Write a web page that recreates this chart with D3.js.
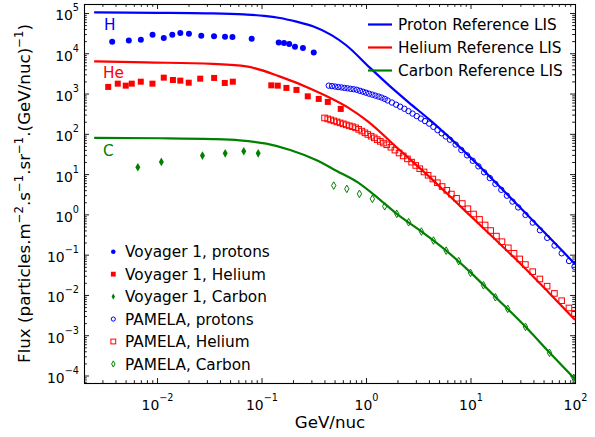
<!DOCTYPE html>
<html><head><meta charset="utf-8">
<script src="https://cdn.jsdelivr.net/npm/d3@7/dist/d3.min.js"></script>
<style>
html,body{margin:0;padding:0;background:#fff;}
svg{display:block;}
text{font-family:"DejaVu Sans","Liberation Sans",sans-serif;}
</style></head>
<body><svg id="chart" width="595" height="437"></svg>
<script>
// ---------------- data ----------------
const xTickValues = [0.01, 0.1, 1, 10, 100];
const xTickExps = ["\u22122", "\u22121", "0", "1", "2"];
const yTickValues = [1e-4, 1e-3, 1e-2, 1e-1, 1, 10, 100, 1e3, 1e4, 1e5];
const yTickExps = ["\u22124", "\u22123", "\u22122", "\u22121", "0", "1", "2", "3", "4", "5"];

const protonLIS_E = [0.0025,0.01,0.03,0.0676,0.106,0.15,0.211,0.31,0.468,0.646,1.08,1.68,2.59,4.05,6.46,11.3,20.2,32.0,56.6,100];
const protonLIS_F = [1.03e5,1.01e5,9.8e4,9.2e4,8.5e4,7.52e4,6.17e4,4.66e4,2.82e4,1.58e4,4.47e3,1.55e3,589,225,75.9,19.0,4.17,1.23,0.269,0.0589];

const heliumLIS_E = [0.0025,0.00787,0.0341,0.0713,0.1485,0.309,0.646,1.04,2.09,4.09,7.29,16.1,31.6,56.6,100];
const heliumLIS_F = [6310,5940,5430,4730,2670,1250,479,204,39.8,8.32,2.00,0.282,0.0525,0.0112,0.0024];

const carbonLIS_E = [0.0025,0.0108,0.0339,0.0616,0.111,0.188,0.333,0.525,0.828,1.31,1.97,3.40,5.85,10.0,17.3,33.6,57.0,100];
const carbonLIS_F = [79.1,77.6,74.1,69.0,57.1,39.8,22.4,12.0,6.31,2.51,1.03,0.374,0.126,0.0363,0.00891,0.00162,3.72e-4,8.13e-5];

const voyP_E = [0.00372,0.00537,0.0070,0.00906,0.0116,0.0140,0.0167,0.0202,0.0265,0.0351,0.0447,0.0527,0.0805,0.146,0.164,0.184,0.209,0.249,0.316];
const voyP_F = [19400,20600,21700,29000,24000,29000,31900,30600,27300,26300,25800,25400,23000,18600,18000,17000,14600,13500,10500];

const voyHe_E = [0.00341,0.00421,0.00502,0.00573,0.00699,0.00904,0.0116,0.0142,0.0167,0.0201,0.0259,0.0352,0.0445,0.0531,0.124,0.143,0.173,0.216,0.277,0.353,0.431,0.573];
const voyHe_F = [1460,1760,1570,1760,1970,1760,2480,2170,2090,1860,2340,2440,1830,1970,1600,1570,1380,1230,853,735,620,415];

const voyC_E = [0.00655,0.0110,0.0272,0.0449,0.0676,0.0929];
const voyC_F = [14.8,20.1,28.8,32.8,36.8,32.8];

const pamP_E = [0.440,0.472,0.506,0.542,0.581,0.621,0.665,0.713,0.762,0.817,0.875,0.936,1.00,1.07,1.15,1.23,1.32,1.41,1.51,1.61,1.77,1.94,2.12,2.33,2.55,2.79,3.06,3.35,3.67,4.02,4.41,4.83,5.30,5.80,6.35,7.21,8.17,9.27,10.5,11.9,13.5,15.3,17.3,19.7,22.3,25.2,28.6,33.6,39.4,46.2,54.2,63.7,74.6,87.7,98.9];
const pamP_F = [1570,1530,1490,1450,1420,1380,1350,1310,1280,1240,1170,1110,1050,991,938,887,839,794,736,673,598,531,472,419,366,318,275,239,207,179,149,124,103,85.9,71.4,54.0,39.6,29.2,21.4,15.6,11.1,7.98,5.70,4.07,2.91,2.08,1.49,0.970,0.625,0.404,0.261,0.168,0.108,0.0695,0.0501];

const pamHe_E = [0.401,0.430,0.459,0.492,0.527,0.565,0.605,0.647,0.693,0.743,0.795,0.851,0.912,0.977,1.04,1.12,1.20,1.28,1.37,1.47,1.58,1.73,1.89,2.07,2.27,2.49,2.73,2.99,3.27,3.59,3.93,4.36,4.82,5.35,5.93,6.56,7.35,8.34,9.44,10.7,12.2,13.8,15.6,17.7,20.0,23.0,26.1,29.6,33.5,39.4,46.1,54.1,63.5,74.5,87.5,98.9];
const pamHe_F = [248,235,222,210,198,187,177,167,158,150,141,129,117,106,96.4,87.3,79.3,71.8,65.0,59.0,53.5,46.5,39.4,33.4,28.3,23.9,19.8,16.4,13.6,11.3,9.35,7.55,6.10,4.92,3.96,3.20,2.51,1.86,1.38,1.02,0.750,0.546,0.397,0.289,0.210,0.148,0.108,0.0783,0.0569,0.0378,0.0249,0.0165,0.0109,0.00719,0.00475,0.00347];

const pamC_E = [0.491,0.655,0.865,1.15,1.51,1.97,2.56,3.39,4.42,5.85,7.71,10.0,13.3,17.3,22.7,33.6,57.0,97.3];
const pamC_F = [5.19,4.30,3.23,2.43,1.59,1.03,0.637,0.374,0.224,0.126,0.0693,0.0353,0.0174,0.00877,0.00452,0.00161,3.66e-4,8.77e-5];

const lisLegendLabels = ["Proton Reference LIS", "Helium Reference LIS", "Carbon Reference LIS"];
const dataLegendLabels = ["Voyager 1, protons", "Voyager 1, Helium", "Voyager 1, Carbon", "PAMELA, protons", "PAMELA, Helium", "PAMELA, Carbon"];
const speciesLabels = ["H", "He", "C"];

// ---------------- setup ----------------
const BLUE = "#0000ff", RED = "#ff0000", GREEN = "#008000";
const L = 84, R = 575, T = 4, B = 383;
const svg = d3.select("#chart");
const x = d3.scaleLog().domain([0.002, 100]).range([L, R]);
const y = d3.scaleLog().domain([Math.pow(10, -4.186), Math.pow(10, 5.223)]).range([B, T]);

const zip = (a, b) => a.map((v, i) => [v, b[i]]);

svg.append("defs").append("clipPath").attr("id", "clip")
  .append("rect").attr("x", L).attr("y", T).attr("width", R - L).attr("height", B - T);

// minor tick values
const xMinor = [], yMinor = [];
for (let e = -3; e <= 2; e++) for (let k = 2; k <= 9; k++) {
  const v = k * Math.pow(10, e);
  if (v >= 0.002 && v <= 100) xMinor.push(v);
}
for (let e = -5; e <= 5; e++) for (let k = 2; k <= 9; k++) {
  const v = k * Math.pow(10, e);
  if (v >= y.domain()[0] && v <= y.domain()[1]) yMinor.push(v);
}

function axisStyle(g) {
  g.selectAll("text").remove();
  g.selectAll("line").attr("stroke", "#000").attr("stroke-width", 0.9);
  g.select(".domain").remove();
}
// major/minor ticks on all four sides (inward)
svg.append("g").attr("transform", `translate(0,${B})`).call(d3.axisBottom(x).tickValues(xTickValues).tickSizeInner(-5).tickSizeOuter(0)).call(axisStyle);
svg.append("g").attr("transform", `translate(0,${B})`).call(d3.axisBottom(x).tickValues(xMinor).tickSizeInner(-2.8).tickSizeOuter(0)).call(axisStyle);
svg.append("g").attr("transform", `translate(0,${T})`).call(d3.axisTop(x).tickValues(xTickValues).tickSizeInner(-5).tickSizeOuter(0)).call(axisStyle);
svg.append("g").attr("transform", `translate(0,${T})`).call(d3.axisTop(x).tickValues(xMinor).tickSizeInner(-2.8).tickSizeOuter(0)).call(axisStyle);
svg.append("g").attr("transform", `translate(${L},0)`).call(d3.axisLeft(y).tickValues(yTickValues).tickSizeInner(-5).tickSizeOuter(0)).call(axisStyle);
svg.append("g").attr("transform", `translate(${L},0)`).call(d3.axisLeft(y).tickValues(yMinor).tickSizeInner(-2.8).tickSizeOuter(0)).call(axisStyle);
svg.append("g").attr("transform", `translate(${R},0)`).call(d3.axisRight(y).tickValues(yTickValues).tickSizeInner(-5).tickSizeOuter(0)).call(axisStyle);
svg.append("g").attr("transform", `translate(${R},0)`).call(d3.axisRight(y).tickValues(yMinor).tickSizeInner(-2.8).tickSizeOuter(0)).call(axisStyle);

// frame
svg.append("rect").attr("x", L + 0.5).attr("y", T + 0.5).attr("width", R - L).attr("height", B - T)
  .attr("fill", "none").attr("stroke", "#000").attr("stroke-width", 1.1);

// tick labels
const xl = svg.append("g").selectAll("text").data(xTickValues).join("text")
  .attr("x", d => x(d) + 0.5).attr("y", 410).attr("text-anchor", "middle").attr("fill", "#000");
xl.append("tspan").attr("font-size", 13.9).text("10");
xl.append("tspan").attr("font-size", 9.7).attr("dy", -9).text((d, i) => xTickExps[i]);

const yl = svg.append("g").selectAll("text").data(yTickValues).join("text")
  .attr("x", 79).attr("y", d => y(d) + 7.5).attr("text-anchor", "end").attr("fill", "#000");
yl.append("tspan").attr("font-size", 13.9).text("10");
yl.append("tspan").attr("font-size", 9.7).attr("dy", -9).text((d, i) => yTickExps[i]);

// axis titles
svg.append("text").attr("x", (L + R) / 2 + 0.5).attr("y", 428).attr("text-anchor", "middle")
  .attr("font-size", 16.7).attr("fill", "#000").text("GeV/nuc");

const yt = svg.append("text").attr("transform", `translate(30,${(T + B) / 2}) rotate(-90)`)
  .attr("text-anchor", "middle").attr("font-size", 16.7).attr("fill", "#000");
const parts = [["Flux (particles.m", 0], ["\u22122", 1], [".s", 0], ["\u22121", 1], [".sr", 0], ["\u22121", 1], [".(GeV/nuc)", 0], ["\u22121", 1], [")", 0]];
let prevSup = 0;
parts.forEach(([t, s]) => {
  const ts = yt.append("tspan").text(t).attr("font-size", s ? 11.7 : 16.7);
  const dy = (s ? -7 : 0) - (prevSup ? -7 : 0);
  if (dy) ts.attr("dy", dy);
  prevSup = s;
});

// ---------------- plot ----------------
const plot = svg.append("g").attr("clip-path", "url(#clip)");
const line = d3.line().x(d => x(d[0])).y(d => y(d[1])).curve(d3.curveMonotoneX);

[[protonLIS_E, protonLIS_F, BLUE], [heliumLIS_E, heliumLIS_F, RED], [carbonLIS_E, carbonLIS_F, GREEN]]
  .forEach(([e, f, c]) => {
    plot.append("path").datum(zip(e, f)).attr("d", line).attr("fill", "none")
      .attr("stroke", c).attr("stroke-width", 2.2);
  });

function diamondPath(w, h) { return `M0,${-h}L${w},0L0,${h}L${-w},0Z`; }

function drawMarkers(g, data, kind, color, filled, s) {
  const sel = g.append("g").selectAll("g").data(data).join("g")
    .attr("transform", d => `translate(${x(d[0])},${y(d[1])})`);
  const fill = filled ? color : "none";
  const sw = filled ? 0 : 1;
  const r = filled ? 3.0 : 2.7, h = filled ? 3.0 : 2.8;
  if (kind === "circle") sel.append("circle").attr("r", r * s).attr("fill", fill).attr("stroke", color).attr("stroke-width", sw);
  if (kind === "square") sel.append("rect").attr("x", -h * s).attr("y", -h * s).attr("width", 2 * h * s).attr("height", 2 * h * s).attr("fill", fill).attr("stroke", color).attr("stroke-width", sw);
  if (kind === "diamond") sel.append("path").attr("d", filled ? diamondPath(2.5 * s, 4.3 * s) : diamondPath(2.2 * s, 3.8 * s)).attr("fill", fill).attr("stroke", color).attr("stroke-width", sw);
}
drawMarkers(plot, zip(voyP_E, voyP_F), "circle", BLUE, true, 1);
drawMarkers(plot, zip(voyHe_E, voyHe_F), "square", RED, true, 1);
drawMarkers(plot, zip(voyC_E, voyC_F), "diamond", GREEN, true, 1);
drawMarkers(plot, zip(pamP_E, pamP_F), "circle", BLUE, false, 1);
drawMarkers(plot, zip(pamHe_E, pamHe_F), "square", RED, false, 1);
drawMarkers(plot, zip(pamC_E, pamC_F), "diamond", GREEN, false, 1);

// species labels
const specPos = [[104, 30, BLUE], [103, 78.3, RED], [103, 156, GREEN]];
svg.append("g").selectAll("text").data(speciesLabels).join("text")
  .attr("x", (d, i) => specPos[i][0]).attr("y", (d, i) => specPos[i][1])
  .attr("fill", (d, i) => specPos[i][2]).attr("font-size", 15.3).text(d => d);

// ---------------- legends ----------------
const lisColors = [BLUE, RED, GREEN];
const lg = svg.append("g");
lisLegendLabels.forEach((t, i) => {
  const yy = 24.5 + i * 23;
  lg.append("line").attr("x1", 368).attr("x2", 392).attr("y1", yy).attr("y2", yy)
    .attr("stroke", lisColors[i]).attr("stroke-width", 2.2);
  lg.append("text").attr("x", 398).attr("y", yy + 5.6).attr("font-size", 15.3).attr("fill", "#000").text(t);
});

const dg = svg.append("g");
const legKinds = [["circle", BLUE, true], ["square", RED, true], ["diamond", GREEN, true], ["circle", BLUE, false], ["square", RED, false], ["diamond", GREEN, false]];
dataLegendLabels.forEach((t, i) => {
  const yy = 251.7 + i * 22.45;
  const [k, c, f] = legKinds[i];
  const g = dg.append("g").attr("transform", `translate(113.3,${yy})`);
  const fill = f ? c : "none", sw = f ? 0 : 1;
  if (k === "circle") g.append("circle").attr("r", f ? 2.3 : 2.1).attr("fill", fill).attr("stroke", c).attr("stroke-width", sw);
  if (k === "square") g.append("rect").attr("x", -2.4).attr("y", -2.4).attr("width", 4.8).attr("height", 4.8).attr("fill", fill).attr("stroke", c).attr("stroke-width", sw);
  if (k === "diamond") g.append("path").attr("d", f ? diamondPath(1.7, 3.2) : diamondPath(1.7, 3.1)).attr("fill", fill).attr("stroke", c).attr("stroke-width", sw);
  dg.append("text").attr("x", 125).attr("y", yy + 5.6).attr("font-size", 15.3).attr("fill", "#000").text(t);
});
</script>
</body></html>
